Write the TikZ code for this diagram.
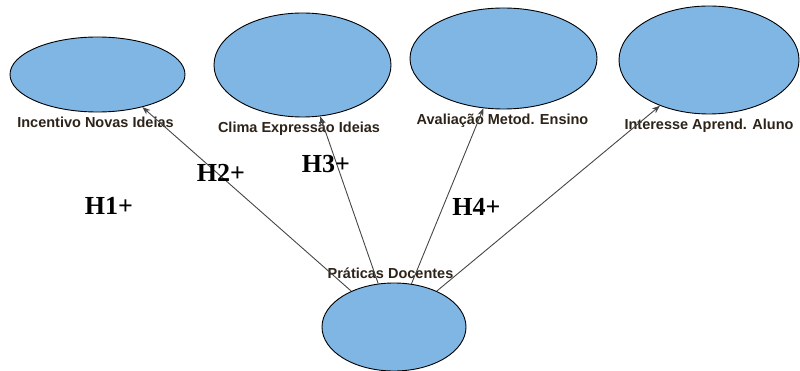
\documentclass[tikz,border=0pt]{standalone}
\usepackage{fontspec}
\setmainfont{Liberation Serif}
\setsansfont{Liberation Sans}
\usetikzlibrary{shapes.geometric,arrows.meta}
\begin{document}
\begin{tikzpicture}[x=1pt,y=-1pt,
    lv/.style={ellipse,draw=black,line width=0.9pt,fill=lvfill,inner sep=0pt},
    lvlabel/.style={anchor=base,text=lvtext,font=\sffamily\bfseries\fontsize{14.5}{16}\selectfont},
    hyp/.style={draw=hypline,line width=0.9pt,-{Stealth[length=8pt,width=6pt]}},
    hyplabel/.style={anchor=base,font=\rmfamily\bfseries\fontsize{26}{28}\selectfont}]
      % Color definitions
      \definecolor{lvfill}{RGB}{127,182,228}  % light blue
      \definecolor{lvtext}{RGB}{45,35,25}     % dark label text
      \definecolor{hypline}{RGB}{70,70,70}    % connector gray

      \useasboundingbox (0,0) rectangle (800,371);

      % Latent variables
      \node[lv,minimum width=175pt,minimum height=75pt]  (inc)  at (97.5,74.5) {};
      \node[lv,minimum width=177pt,minimum height=104pt] (clima) at (302.5,65) {};
      \node[lv,minimum width=187pt,minimum height=101pt] (aval) at (503.5,58.5) {};
      \node[lv,minimum width=180pt,minimum height=108pt] (inter) at (709,60) {};
      \node[lv,minimum width=144pt,minimum height=88pt]  (prat) at (394,327) {};

      % Labels
      \node[lvlabel] (incl)   at (95.5,127.3) {Incentivo Novas Ideias};
      \node[lvlabel] (climal) at (299,132.7)  {Clima Expressão Ideias};
      \node[lvlabel] (avall)  at (502.5,125)  {Avaliação Metod. Ensino};
      \node[lvlabel] (interl) at (709,129.3)  {Interesse Aprend. Aluno};
      \node[lvlabel] (pratl)  at (390.5,279)  {Práticas Docentes};

      % Hypotheses
      \draw[hyp] (prat.140) -- (inc.-36);
      \draw[hyp] (prat.110) -- (clima.-71);
      \draw[hyp] (prat.68)  -- (aval.-112.5);
      \draw[hyp] (prat.40)  -- (inter.-137.5);

      \node[hyplabel] (h1) at (109,215)   {H1+};
      \node[hyplabel] (h2) at (221,182)   {H2+};
      \node[hyplabel] (h3) at (326,173)   {H3+};
      \node[hyplabel] (h4) at (476.5,216) {H4+};
    \end{tikzpicture}
\end{document}
